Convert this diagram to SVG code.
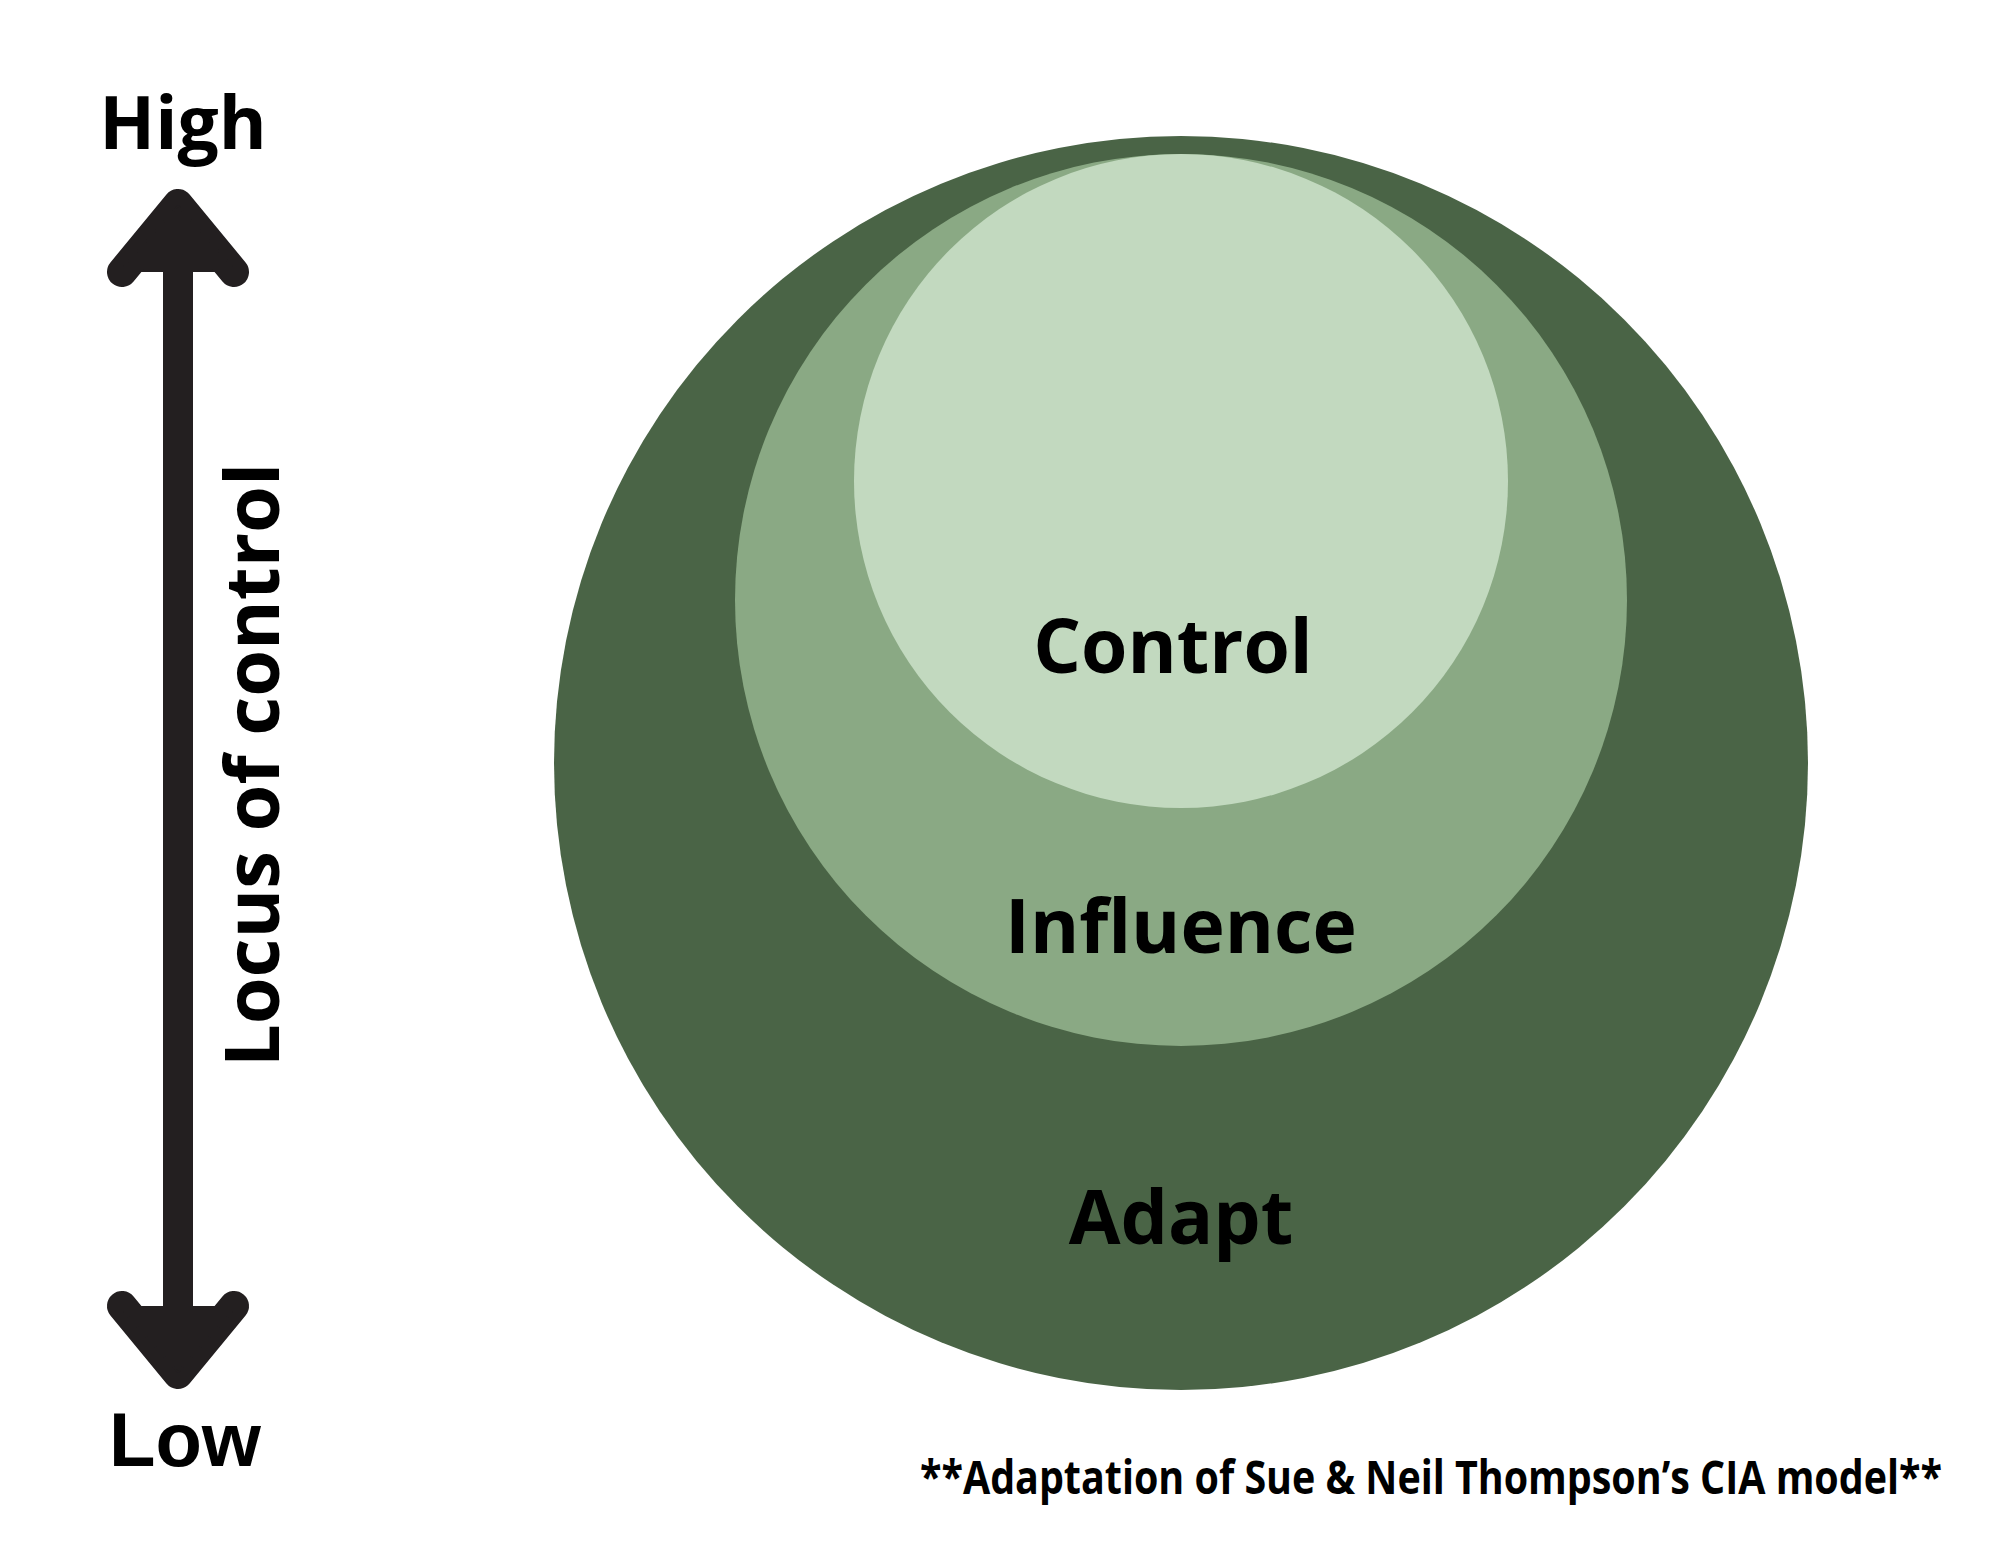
<svg xmlns="http://www.w3.org/2000/svg" width="2000" height="1545" viewBox="0 0 2000 1545">
<style>
.lbl{font-family:"Open Sans","Noto Sans",sans-serif;font-weight:700;fill:#000;text-anchor:middle}
.low{font-family:"Liberation Sans",Arial,sans-serif;font-weight:700;fill:#000;text-anchor:middle}
.arr{fill:#231f20;stroke:#231f20;stroke-linejoin:round;stroke-linecap:round}
</style>
<rect width="2000" height="1545" fill="#fff"/>
<g id="adapt"><circle cx="1181" cy="763" r="627" fill="#4a6446"/><text class="lbl" x="1181" y="1244" font-size="75">Adapt</text></g>
<g id="influence"><circle cx="1181" cy="600" r="446" fill="#8aa984"/><text class="lbl" x="1181" y="953" font-size="75">Influence</text></g>
<g id="control"><circle cx="1181" cy="481" r="327" fill="#c2d9bf"/><text class="lbl" x="1173" y="673" font-size="75">Control</text></g>
<g id="connectors">
<line x1="178" y1="250" x2="178" y2="1330" stroke="#231f20" stroke-width="30"/>
<path class="arr" d="M122 272 L178 204 L234 272" stroke-width="30"/>
<path class="arr" d="M124 266 L178 206 L232 266 Z" stroke-width="2"/>
<path class="arr" d="M122 1306 L178 1374 L234 1306" stroke-width="30"/>
<path class="arr" d="M124 1312 L178 1372 L232 1312 Z" stroke-width="2"/>
</g>
<g id="high"><text class="lbl" x="183" y="149" font-size="73">High</text></g>
<g id="low"><text class="low" x="185" y="1466" font-size="76">Low</text></g>
<g id="axis"><text class="lbl" transform="translate(279,765) rotate(-90)" x="0" y="0" font-size="76" textLength="604" lengthAdjust="spacingAndGlyphs">Locus of control</text></g>
<g id="footer"><text x="920" y="1494" font-family="'Open Sans','Noto Sans',sans-serif" font-weight="700" font-size="46" textLength="1022" lengthAdjust="spacingAndGlyphs">**Adaptation of Sue &amp; Neil Thompson’s CIA model**</text></g>
</svg>
